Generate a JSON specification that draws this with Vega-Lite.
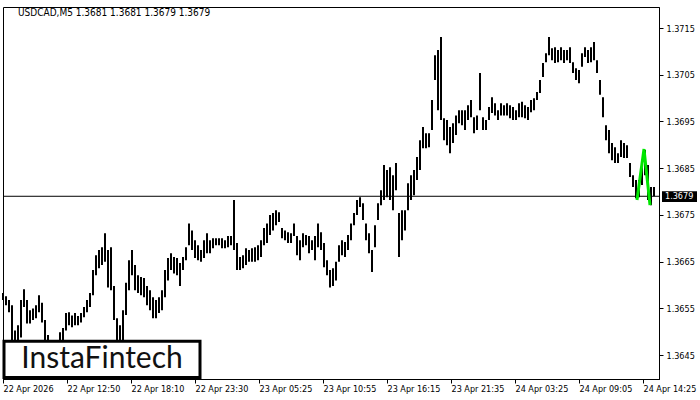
{
  "$schema": "https://vega.github.io/schema/vega-lite/v6.json",
  "width": 656,
  "height": 372,
  "autosize": {"type": "none"},
  "padding": {"left": 3, "top": 7, "right": 41, "bottom": 21},
  "background": "white",
  "config": {"view": {"stroke": "black", "strokeWidth": 1}},
  "title": {
    "text": "USDCAD,M5  1.3681 1.3681 1.3679 1.3679",
    "anchor": "start",
    "frame": "group",
    "offset": 0,
    "dx": 15,
    "dy": 11,
    "font": "DejaVu Sans Condensed, Liberation Sans, sans-serif",
    "fontSize": 10,
    "fontWeight": "normal",
    "color": "black"
  },
  "datasets": {
    "bars": [
      {"bar":0,"high":1.36583,"low":1.36568},{"bar":3,"high":1.36576,"low":1.36557},{"bar":6,"high":1.36568,"low":1.36542},
      {"bar":9,"high":1.36557,"low":1.36482},{"bar":12,"high":1.36503,"low":1.36461},{"bar":15,"high":1.36514,"low":1.36471},
      {"bar":18,"high":1.36568,"low":1.36488},{"bar":21,"high":1.36591,"low":1.36553},{"bar":24,"high":1.36568,"low":1.36518},
      {"bar":27,"high":1.36546,"low":1.36518},{"bar":30,"high":1.36550,"low":1.36525},{"bar":33,"high":1.36557,"low":1.36529},
      {"bar":36,"high":1.36578,"low":1.36542},{"bar":39,"high":1.36562,"low":1.36520},{"bar":42,"high":1.36525,"low":1.36471},
      {"bar":45,"high":1.36493,"low":1.36450},{"bar":48,"high":1.36482,"low":1.36439},{"bar":51,"high":1.36477,"low":1.36439},
      {"bar":54,"high":1.36482,"low":1.36443},{"bar":57,"high":1.36499,"low":1.36471},{"bar":60,"high":1.36508,"low":1.36482},
      {"bar":63,"high":1.36540,"low":1.36503},{"bar":66,"high":1.36542,"low":1.36514},{"bar":69,"high":1.36535,"low":1.36510},
      {"bar":72,"high":1.36540,"low":1.36514},{"bar":75,"high":1.36534,"low":1.36514},{"bar":78,"high":1.36540,"low":1.36520},
      {"bar":81,"high":1.36553,"low":1.36531},{"bar":84,"high":1.36568,"low":1.36542},{"bar":87,"high":1.36583,"low":1.36553},
      {"bar":90,"high":1.36632,"low":1.36578},{"bar":93,"high":1.36664,"low":1.36621},{"bar":96,"high":1.36675,"low":1.36636},
      {"bar":99,"high":1.36681,"low":1.36643},{"bar":102,"high":1.36711,"low":1.36650},{"bar":105,"high":1.36675,"low":1.36595},
      {"bar":108,"high":1.36681,"low":1.36589},{"bar":111,"high":1.36598,"low":1.36525},{"bar":114,"high":1.36529,"low":1.36482},
      {"bar":117,"high":1.36514,"low":1.36471},{"bar":120,"high":1.36546,"low":1.36482},{"bar":123,"high":1.36605,"low":1.36536},
      {"bar":126,"high":1.36653,"low":1.36589},{"bar":129,"high":1.36675,"low":1.36621},{"bar":132,"high":1.36643,"low":1.36589},
      {"bar":135,"high":1.36621,"low":1.36583},{"bar":138,"high":1.36617,"low":1.36578},{"bar":141,"high":1.36615,"low":1.36574},
      {"bar":144,"high":1.36598,"low":1.36557},{"bar":147,"high":1.36589,"low":1.36546},{"bar":150,"high":1.36574,"low":1.36529},
      {"bar":153,"high":1.36568,"low":1.36529},{"bar":156,"high":1.36574,"low":1.36540},{"bar":159,"high":1.36589,"low":1.36546},
      {"bar":162,"high":1.36632,"low":1.36574},{"bar":165,"high":1.36658,"low":1.36610},{"bar":168,"high":1.36668,"low":1.36632},
      {"bar":171,"high":1.36660,"low":1.36625},{"bar":174,"high":1.36658,"low":1.36621},{"bar":177,"high":1.36647,"low":1.36598},
      {"bar":180,"high":1.36660,"low":1.36632},{"bar":183,"high":1.36681,"low":1.36653},{"bar":186,"high":1.36732,"low":1.36685},
      {"bar":189,"high":1.36717,"low":1.36675},{"bar":192,"high":1.36696,"low":1.36658},{"bar":195,"high":1.36685,"low":1.36653},
      {"bar":198,"high":1.36675,"low":1.36650},{"bar":201,"high":1.36696,"low":1.36658},{"bar":204,"high":1.36711,"low":1.36668},
      {"bar":207,"high":1.36696,"low":1.36668},{"bar":210,"high":1.36700,"low":1.36679},{"bar":213,"high":1.36700,"low":1.36685},
      {"bar":216,"high":1.36700,"low":1.36685},{"bar":219,"high":1.36700,"low":1.36679},{"bar":222,"high":1.36696,"low":1.36679},
      {"bar":225,"high":1.36705,"low":1.36681},{"bar":228,"high":1.36705,"low":1.36685},{"bar":231,"high":1.36782,"low":1.36675},
      {"bar":234,"high":1.36690,"low":1.36632},{"bar":237,"high":1.36660,"low":1.36632},{"bar":240,"high":1.36664,"low":1.36636},
      {"bar":243,"high":1.36679,"low":1.36643},{"bar":246,"high":1.36675,"low":1.36650},{"bar":249,"high":1.36679,"low":1.36650},
      {"bar":252,"high":1.36681,"low":1.36650},{"bar":255,"high":1.36685,"low":1.36653},{"bar":258,"high":1.36696,"low":1.36660},
      {"bar":261,"high":1.36722,"low":1.36685},{"bar":264,"high":1.36732,"low":1.36690},{"bar":267,"high":1.36750,"low":1.36707},
      {"bar":270,"high":1.36754,"low":1.36717},{"bar":273,"high":1.36760,"low":1.36728},{"bar":276,"high":1.36756,"low":1.36735},
      {"bar":279,"high":1.36722,"low":1.36700},{"bar":282,"high":1.36717,"low":1.36696},{"bar":285,"high":1.36713,"low":1.36690},
      {"bar":288,"high":1.36711,"low":1.36690},{"bar":291,"high":1.36732,"low":1.36705},{"bar":294,"high":1.36705,"low":1.36664},
      {"bar":297,"high":1.36696,"low":1.36653},{"bar":300,"high":1.36711,"low":1.36681},{"bar":303,"high":1.36707,"low":1.36685},
      {"bar":306,"high":1.36705,"low":1.36668},{"bar":309,"high":1.36696,"low":1.36675},{"bar":312,"high":1.36705,"low":1.36653},
      {"bar":315,"high":1.36732,"low":1.36681},{"bar":318,"high":1.36713,"low":1.36675},{"bar":321,"high":1.36690,"low":1.36638},
      {"bar":324,"high":1.36653,"low":1.36621},{"bar":327,"high":1.36632,"low":1.36595},{"bar":330,"high":1.36636,"low":1.36598},
      {"bar":333,"high":1.36650,"low":1.36610},{"bar":336,"high":1.36685,"low":1.36650},{"bar":339,"high":1.36696,"low":1.36664},
      {"bar":342,"high":1.36692,"low":1.36660},{"bar":345,"high":1.36707,"low":1.36675},{"bar":348,"high":1.36732,"low":1.36696},
      {"bar":351,"high":1.36754,"low":1.36728},{"bar":354,"high":1.36782,"low":1.36750},{"bar":357,"high":1.36788,"low":1.36767},
      {"bar":360,"high":1.36775,"low":1.36739},{"bar":363,"high":1.36732,"low":1.36696},{"bar":366,"high":1.36711,"low":1.36668},
      {"bar":369,"high":1.36675,"low":1.36628},{"bar":372,"high":1.36728,"low":1.36681},{"bar":375,"high":1.36775,"low":1.36739},
      {"bar":378,"high":1.36803,"low":1.36771},{"bar":381,"high":1.36857,"low":1.36782},{"bar":384,"high":1.36846,"low":1.36788},
      {"bar":387,"high":1.36852,"low":1.36782},{"bar":390,"high":1.36835,"low":1.36760},{"bar":393,"high":1.36861,"low":1.36803},
      {"bar":396,"high":1.36754,"low":1.36660},{"bar":399,"high":1.36760,"low":1.36696},{"bar":402,"high":1.36760,"low":1.36717},
      {"bar":405,"high":1.36818,"low":1.36760},{"bar":408,"high":1.36835,"low":1.36782},{"bar":411,"high":1.36846,"low":1.36792},
      {"bar":414,"high":1.36874,"low":1.36825},{"bar":417,"high":1.36910,"low":1.36846},{"bar":420,"high":1.36938,"low":1.36893},
      {"bar":423,"high":1.36925,"low":1.36893},{"bar":426,"high":1.36925,"low":1.36895},{"bar":429,"high":1.36996,"low":1.36932},
      {"bar":432,"high":1.37092,"low":1.37039},{"bar":435,"high":1.37103,"low":1.36974},{"bar":438,"high":1.37131,"low":1.36953},
      {"bar":441,"high":1.36957,"low":1.36910},{"bar":444,"high":1.36953,"low":1.36899},{"bar":447,"high":1.36938,"low":1.36882},
      {"bar":450,"high":1.36946,"low":1.36904},{"bar":453,"high":1.36963,"low":1.36921},{"bar":456,"high":1.36974,"low":1.36946},
      {"bar":459,"high":1.36974,"low":1.36942},{"bar":462,"high":1.36974,"low":1.36932},{"bar":465,"high":1.36985,"low":1.36953},
      {"bar":468,"high":1.36996,"low":1.36959},{"bar":471,"high":1.36959,"low":1.36925},{"bar":474,"high":1.36963,"low":1.36932},
      {"bar":477,"high":1.37054,"low":1.36974},{"bar":480,"high":1.36959,"low":1.36932},{"bar":483,"high":1.36953,"low":1.36932},
      {"bar":486,"high":1.36981,"low":1.36953},{"bar":489,"high":1.37002,"low":1.36968},{"bar":492,"high":1.36989,"low":1.36963},
      {"bar":495,"high":1.36974,"low":1.36953},{"bar":498,"high":1.36989,"low":1.36963},{"bar":501,"high":1.36985,"low":1.36963},
      {"bar":504,"high":1.36989,"low":1.36963},{"bar":507,"high":1.36985,"low":1.36957},{"bar":510,"high":1.36981,"low":1.36953},
      {"bar":513,"high":1.36974,"low":1.36953},{"bar":516,"high":1.36989,"low":1.36959},{"bar":519,"high":1.36992,"low":1.36959},
      {"bar":522,"high":1.36985,"low":1.36957},{"bar":525,"high":1.36981,"low":1.36953},{"bar":528,"high":1.36996,"low":1.36970},
      {"bar":531,"high":1.37000,"low":1.36974},{"bar":534,"high":1.37013,"low":1.36996},{"bar":537,"high":1.37039,"low":1.37011},
      {"bar":540,"high":1.37075,"low":1.37045},{"bar":543,"high":1.37096,"low":1.37077},{"bar":546,"high":1.37131,"low":1.37092},
      {"bar":549,"high":1.37107,"low":1.37081},{"bar":552,"high":1.37109,"low":1.37075},{"bar":555,"high":1.37103,"low":1.37077},
      {"bar":558,"high":1.37109,"low":1.37081},{"bar":561,"high":1.37103,"low":1.37075},{"bar":564,"high":1.37103,"low":1.37081},
      {"bar":567,"high":1.37109,"low":1.37075},{"bar":570,"high":1.37077,"low":1.37054},{"bar":573,"high":1.37064,"low":1.37039},
      {"bar":576,"high":1.37060,"low":1.37032},{"bar":579,"high":1.37096,"low":1.37067},{"bar":582,"high":1.37109,"low":1.37088},
      {"bar":585,"high":1.37103,"low":1.37075},{"bar":588,"high":1.37109,"low":1.37077},{"bar":591,"high":1.37120,"low":1.37081},
      {"bar":594,"high":1.37081,"low":1.37054},{"bar":597,"high":1.37039,"low":1.37007},{"bar":600,"high":1.37002,"low":1.36959},
      {"bar":603,"high":1.36942,"low":1.36910},{"bar":606,"high":1.36932,"low":1.36882},{"bar":609,"high":1.36904,"low":1.36867},
      {"bar":612,"high":1.36895,"low":1.36861},{"bar":615,"high":1.36882,"low":1.36861},{"bar":618,"high":1.36910,"low":1.36874},
      {"bar":621,"high":1.36904,"low":1.36872},{"bar":624,"high":1.36899,"low":1.36872},{"bar":627,"high":1.36861,"low":1.36831},
      {"bar":630,"high":1.36835,"low":1.36810},{"bar":633,"high":1.36825,"low":1.36786},{"bar":636,"high":1.36825,"low":1.36788},
      {"bar":639,"high":1.36857,"low":1.36814},{"bar":642,"high":1.36889,"low":1.36835},{"bar":645,"high":1.36857,"low":1.36782},
      {"bar":648,"high":1.36810,"low":1.36771},{"bar":651,"high":1.36810,"low":1.36790}
    ],
    "pattern": [
      {"bar": 634, "price": 1.36782},
      {"bar": 641, "price": 1.36891},
      {"bar": 647, "price": 1.36771}
    ]
  },
  "layer": [
    {
      "data": {"name": "bars"},
      "mark": {"type": "rule", "strokeWidth": 2, "color": "black"},
      "encoding": {
        "x": {
          "field": "bar",
          "type": "quantitative",
          "scale": {"domain": [0, 656], "nice": false, "zero": false},
          "axis": {
            "title": null,
            "values": [0, 64, 128, 192, 256, 320, 384, 448, 512, 576, 640],
            "labelExpr": "['22 Apr 2026','22 Apr 12:50','22 Apr 18:10','22 Apr 23:30','23 Apr 05:25','23 Apr 10:55','23 Apr 16:15','23 Apr 21:35','24 Apr 03:25','24 Apr 09:05','24 Apr 14:25'][round(datum.value/64)]",
            "grid": false,
            "domain": true,
            "domainColor": "black",
            "tickColor": "black",
            "tickSize": 4,
            "labelAlign": "left",
            "labelBaseline": "top",
            "labelPadding": 1,
            "labelFlush": false,
            "labelOverlap": false,
            "labelFont": "DejaVu Sans Condensed, Liberation Sans, sans-serif",
            "labelFontSize": 9,
            "labelColor": "black"
          }
        },
        "y": {
          "field": "high",
          "type": "quantitative",
          "scale": {"domain": [1.36399, 1.37195], "nice": false, "zero": false},
          "axis": {
            "title": null,
            "orient": "right",
            "values": [1.3645, 1.3655, 1.3665, 1.3675, 1.3685, 1.3695, 1.3705, 1.3715],
            "format": ".4f",
            "grid": false,
            "domain": true,
            "domainColor": "black",
            "tickColor": "black",
            "tickSize": 4,
            "labelPadding": 3,
            "labelOverlap": false,
            "labelFont": "DejaVu Sans Condensed, Liberation Sans, sans-serif",
            "labelFontSize": 9,
            "labelColor": "black"
          }
        },
        "y2": {"field": "low"}
      }
    },
    {
      "data": {"values": [{"level": 1.3679}]},
      "mark": {"type": "rule", "color": "black", "strokeWidth": 1},
      "encoding": {"y": {"field": "level", "type": "quantitative"}}
    },
    {
      "data": {"name": "pattern"},
      "mark": {"type": "line", "color": "#00e600", "strokeWidth": 3},
      "encoding": {
        "x": {"field": "bar", "type": "quantitative"},
        "y": {"field": "price", "type": "quantitative"}
      }
    },
    {
      "data": {"values": [{"label": "InstaFintech"}]},
      "mark": {"type": "rect", "fill": "white", "stroke": "black", "strokeWidth": 3},
      "encoding": {
        "x": {"datum": 1},
        "x2": {"datum": 197},
        "y": {"datum": 1.3648},
        "y2": {"datum": 1.36402}
      }
    },
    {
      "data": {"values": [{"label": "InstaFintech"}]},
      "mark": {"type": "text", "font": "Lato", "fontSize": 30, "color": "#111111", "align": "center", "baseline": "middle"},
      "encoding": {
        "x": {"datum": 99},
        "y": {"datum": 1.36441},
        "text": {"field": "label"}
      }
    },
    {
      "data": {"values": [{"label": "1.3679"}]},
      "mark": {"type": "rect", "fill": "black"},
      "encoding": {
        "x": {"datum": 659},
        "x2": {"datum": 694},
        "y": {"datum": 1.36801},
        "y2": {"datum": 1.36778}
      }
    },
    {
      "data": {"values": [{"label": "1.3679"}]},
      "mark": {"type": "text", "color": "white", "align": "left", "baseline": "middle", "font": "DejaVu Sans Condensed, Liberation Sans, sans-serif", "fontSize": 9},
      "encoding": {
        "x": {"datum": 662},
        "y": {"datum": 1.3679},
        "text": {"field": "label"}
      }
    }
  ]
}
